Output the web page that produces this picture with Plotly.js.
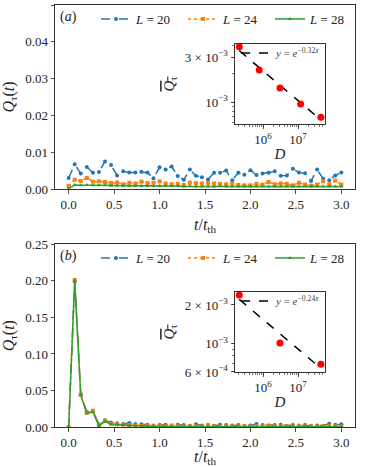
<!DOCTYPE html>
<html>
<head>
<meta charset="utf-8">
<script src="https://cdn.plot.ly/plotly-3.0.1.min.js"></script>
<style>html,body{margin:0;padding:0;background:#fff;}#chart{width:374px;height:467px;}</style>
</head>
<body>
<div id="chart"></div>
<script>
// time axis t / t_th
const tVals = [0, 0.0667, 0.1333, 0.2, 0.2667, 0.3333, 0.4, 0.4667, 0.5333, 0.6, 0.6667, 0.7333, 0.8, 0.8667, 0.9333, 1.0,
  1.0667, 1.1333, 1.2, 1.2667, 1.3333, 1.4, 1.4667, 1.5333, 1.6, 1.6667, 1.7333, 1.8, 1.8667, 1.9333, 2.0,
  2.0667, 2.1333, 2.2, 2.2667, 2.3333, 2.4, 2.4667, 2.5333, 2.6, 2.6667, 2.7333, 2.8, 2.8667, 2.9333, 3.0];

// panel (a)
const a_L20 = [0.0030, 0.0067, 0.0042, 0.0060, 0.0044, 0.0046, 0.0075, 0.0065, 0.0037, 0.0048, 0.0045, 0.0045, 0.0047, 0.0045, 0.0029, 0.0059,
  0.0053, 0.0061, 0.0035, 0.0025, 0.0053, 0.0036, 0.0032, 0.0026, 0.0044, 0.0044, 0.0050, 0.0024, 0.0044, 0.0039, 0.0051,
  0.0038, 0.0042, 0.0044, 0.0048, 0.0036, 0.0037, 0.0055, 0.0045, 0.0043, 0.0022, 0.0053, 0.0028, 0.0024, 0.0037, 0.0045];
const a_L24 = [0.0008, 0.0025, 0.0022, 0.0030, 0.0020, 0.0021, 0.0019, 0.0016, 0.0018, 0.0013, 0.0017, 0.0015, 0.0020, 0.0016, 0.0017, 0.0021,
  0.0015, 0.0013, 0.0014, 0.0011, 0.0017, 0.0016, 0.0015, 0.0016, 0.0015, 0.0014, 0.0013, 0.0015, 0.0011, 0.0010, 0.0010,
  0.0014, 0.0012, 0.0019, 0.0013, 0.0015, 0.0014, 0.0010, 0.0017, 0.0012, 0.0009, 0.0012, 0.0021, 0.0013, 0.0023, 0.0012];
const a_L28 = [0.0001, 0.0011, 0.0010, 0.0011, 0.0010, 0.0010, 0.0010, 0.0009, 0.0009, 0.0008, 0.0008, 0.0008, 0.0008, 0.0008, 0.0008, 0.0008,
  0.0008, 0.0008, 0.0008, 0.0007, 0.0008, 0.0007, 0.0007, 0.0007, 0.0007, 0.0008, 0.0007, 0.0007, 0.0007, 0.0007, 0.0007,
  0.0007, 0.0007, 0.0007, 0.0007, 0.0007, 0.0007, 0.0007, 0.0007, 0.0007, 0.0007, 0.0007, 0.0007, 0.0007, 0.0007, 0.0007];

// panel (b)
const b_L20 = [0, 0.199, 0.044, 0.021, 0.022, 0.004, 0.0095, 0.0065, 0.0055, 0.0045, 0.006, 0.0045, 0.004, 0.0035, 0.0025, 0.003,
  0.0035, 0.0025, 0.0035, 0.003, 0.002, 0.004, 0.0025, 0.003, 0.002, 0.0035, 0.003, 0.0025, 0.003, 0.002, 0.0025,
  0.0045, 0.003, 0.0025, 0.003, 0.0035, 0.002, 0.003, 0.0025, 0.003, 0.002, 0.0025, 0.002, 0.005, 0.0035, 0.004];
const b_L24 = [0, 0.201, 0.045, 0.020, 0.0225, 0.003, 0.009, 0.005, 0.004, 0.0035, 0.003, 0.0025, 0.002, 0.002, 0.0015, 0.002,
  0.0015, 0.002, 0.0015, 0.001, 0.0015, 0.0015, 0.001, 0.002, 0.0015, 0.001, 0.0015, 0.0015, 0.001, 0.0015, 0.001,
  0.0015, 0.001, 0.002, 0.0015, 0.001, 0.0015, 0.001, 0.0015, 0.001, 0.0015, 0.001, 0.0015, 0.002, 0.0015, 0.001];
const b_L28 = [0, 0.200, 0.044, 0.019, 0.021, 0.002, 0.008, 0.004, 0.0035, 0.003, 0.002, 0.0015, 0.0012, 0.001, 0.001, 0.001,
  0.0009, 0.0009, 0.0009, 0.0008, 0.0009, 0.0008, 0.0008, 0.0009, 0.0008, 0.0008, 0.0008, 0.0008, 0.0008, 0.0008, 0.0008,
  0.0008, 0.0008, 0.0008, 0.0008, 0.0008, 0.0008, 0.0008, 0.0008, 0.0008, 0.0008, 0.0008, 0.0008, 0.0008, 0.0008, 0.0008];

// insets
const insetA_D = [2.1e5, 7.8e5, 3.05e6, 1.19e7, 4.5e7];
const insetA_Q = [3.85e-3, 2.18e-3, 1.41e-3, 9.5e-4, 6.9e-4];
const fitA_D = [2.1e5, 4.5e7];
const fitA_Q = [3.5e-3, 6.45e-4];
const insetB_D = [2.1e5, 3.05e6, 4.5e7];
const insetB_Q = [2.39e-3, 1.01e-3, 6.9e-4];
const fitB_D = [2.1e5, 4.5e7];
const fitB_Q = [2.21e-3, 6.4e-4];

const seriesNames = ['<i>L</i> = 20', '<i>L</i> = 24', '<i>L</i> = 28'];
const colors = ['#1f77b4', '#ff7f0e', '#2ca02c'];
const dashes = ['dash', 'dot', 'solid'];
const symbols = ['circle', 'square', 'triangle-up'];
const msizes = [4, 4, 4];

const FONT = "'Liberation Serif', 'Times New Roman', serif";

const traces = [];
const aData = [a_L20, a_L24, a_L28];
const bData = [b_L20, b_L24, b_L28];
for (let i = 0; i < 3; i++) {
  traces.push({x: tVals, y: aData[i], type: 'scatter', mode: 'lines+markers', name: seriesNames[i],
    xaxis: 'x', yaxis: 'y', legend: 'legend',
    line: {color: colors[i], width: 1.5, dash: dashes[i]}, marker: {color: colors[i], size: msizes[i], symbol: symbols[i]}});
}
for (let i = 0; i < 3; i++) {
  traces.push({x: tVals, y: bData[i], type: 'scatter', mode: 'lines+markers', name: seriesNames[i],
    xaxis: 'x2', yaxis: 'y2', legend: 'legend2',
    line: {color: colors[i], width: 1.5, dash: dashes[i]}, marker: {color: colors[i], size: msizes[i], symbol: symbols[i]}});
}
traces.push({x: fitA_D, y: fitA_Q, type: 'scatter', mode: 'lines', name: '<i>y</i> = <i>e</i><sup>−0.32<i>x</i></sup>',
  xaxis: 'x3', yaxis: 'y3', legend: 'legend3', line: {color: 'black', width: 1.5, dash: 'dash'}});
traces.push({x: insetA_D, y: insetA_Q, type: 'scatter', mode: 'markers', showlegend: false,
  xaxis: 'x3', yaxis: 'y3', marker: {color: 'red', size: 7}});
traces.push({x: fitB_D, y: fitB_Q, type: 'scatter', mode: 'lines', name: '<i>y</i> = <i>e</i><sup>−0.24<i>x</i></sup>',
  xaxis: 'x4', yaxis: 'y4', legend: 'legend4', line: {color: 'black', width: 1.5, dash: 'dash'}});
traces.push({x: insetB_D, y: insetB_Q, type: 'scatter', mode: 'markers', showlegend: false,
  xaxis: 'x4', yaxis: 'y4', marker: {color: 'red', size: 7}});

const H = 467, W = 374;
const py = v => 1 - v / H;
const px = v => v / W;

const mainX = {range: [-0.15, 3.15], tickvals: [0, 0.5, 1, 1.5, 2, 2.5, 3], ticktext: ['0.0', '0.5', '1.0', '1.5', '2.0', '2.5', '3.0'],
  ticks: 'outside', ticklen: 3.5, tickwidth: 0.8, tickcolor: '#222', showline: true, mirror: true, linecolor: '#333', linewidth: 1,
  showgrid: false, zeroline: false, tickfont: {family: FONT, size: 13, color: '#222'},
  title: {text: '<i>t</i>/<i>t</i><sub>th</sub>', font: {family: FONT, size: 16, color: '#222'}, standoff: 7}};
const mainY = {ticks: 'outside', ticklen: 3.5, tickwidth: 0.8, tickcolor: '#222', showline: true, mirror: true, linecolor: '#333', linewidth: 1,
  showgrid: false, zeroline: false, tickfont: {family: FONT, size: 13, color: '#222'},
  title: {text: '<i>Q</i><sub>τ</sub>(<i>t</i>)', font: {family: FONT, size: 16, color: '#222'}, standoff: 6}};

function insetX() {
  return {type: 'log', range: [5.2, 7.77], tickvals: [1e6, 1e7], ticktext: ['10<sup>6</sup>', '10<sup>7</sup>'],
    ticks: 'outside', ticklen: 3.5, tickwidth: 0.8, tickcolor: '#222', showline: true, mirror: true, linecolor: '#333', linewidth: 1,
    showgrid: false, zeroline: false, tickfont: {family: FONT, size: 13, color: '#222'},
    minor: {dtick: 'D1', ticks: 'outside', ticklen: 2, tickwidth: 0.6, tickcolor: '#222', showgrid: false},
    title: {text: '<i>D</i>', font: {family: FONT, size: 15, color: '#222'}, standoff: 2}};
}
function insetY(range, vals, txt) {
  return {type: 'log', range: range, tickvals: vals, ticktext: txt,
    ticks: 'outside', ticklen: 3.5, tickwidth: 0.8, tickcolor: '#222', showline: true, mirror: true, linecolor: '#333', linewidth: 1,
    showgrid: false, zeroline: false, tickfont: {family: FONT, size: 13, color: '#222'},
    minor: {dtick: 'D1', ticks: 'outside', ticklen: 2, tickwidth: 0.6, tickcolor: '#222', showgrid: false},
    title: {text: '<span style="text-decoration:overline"><i>Q</i><sub>τ</sub></span>', font: {family: FONT, size: 15, color: '#222'}, standoff: 6}};
}

const legBase = {orientation: 'h', bgcolor: 'rgba(0,0,0,0)', font: {family: FONT, size: 13, color: '#222'}, xanchor: 'left', yanchor: 'middle',
  entrywidth: 42, entrywidthmode: 'pixels', itemwidth: 30, tracegroupgap: 0};

const layout = {
  width: W, height: H, margin: {l: 0, r: 0, t: 0, b: 0}, paper_bgcolor: 'white', plot_bgcolor: 'white',
  font: {family: FONT, color: '#222'}, showlegend: true,
  xaxis: Object.assign({}, mainX, {domain: [px(55), px(355)], anchor: 'y'}),
  yaxis: Object.assign({}, mainY, {domain: [py(189), py(5)], anchor: 'x', range: [0, 0.05], dtick: 0.01, tickformat: '.2f'}),
  xaxis2: Object.assign({}, mainX, {domain: [px(55), px(355)], anchor: 'y2'}),
  yaxis2: Object.assign({}, mainY, {domain: [py(427.3), py(244)], anchor: 'x2', range: [0, 0.25], dtick: 0.05, tickformat: '.2f'}),
  xaxis3: Object.assign(insetX(), {domain: [px(235), px(325)], anchor: 'y3'}),
  yaxis3: Object.assign(insetY([-3.233, -2.385], [3e-3, 1e-3], ['3 × 10<sup>−3</sup>', '10<sup>−3</sup>']), {domain: [py(124), py(44)], anchor: 'x3'}),
  xaxis4: Object.assign(insetX(), {domain: [px(235), px(325)], anchor: 'y4'}),
  yaxis4: Object.assign(insetY([-3.222, -2.598], [2e-3, 1e-3, 6e-4], ['2 × 10<sup>−3</sup>', '10<sup>−3</sup>', '6 × 10<sup>−4</sup>']), {domain: [py(372), py(292)], anchor: 'x4'}),
  legend: Object.assign({}, legBase, {x: px(96), y: py(19)}),
  legend2: Object.assign({}, legBase, {x: px(96), y: py(258)}),
  legend3: Object.assign({}, legBase, {x: px(236), y: py(53), font: {family: FONT, size: 11, color: '#444'}}),
  legend4: Object.assign({}, legBase, {x: px(236), y: py(301), font: {family: FONT, size: 11, color: '#444'}}),
  annotations: [
    {text: '(<i>a</i>)', xref: 'paper', yref: 'paper', x: px(58), y: py(17), xanchor: 'left', yanchor: 'middle', showarrow: false, font: {family: FONT, size: 14, color: '#222'}},
    {text: '(<i>b</i>)', xref: 'paper', yref: 'paper', x: px(58), y: py(256), xanchor: 'left', yanchor: 'middle', showarrow: false, font: {family: FONT, size: 14, color: '#222'}}
  ]
};

Plotly.newPlot('chart', traces, layout, {displayModeBar: false, staticPlot: true});
</script>
</body>
</html>
